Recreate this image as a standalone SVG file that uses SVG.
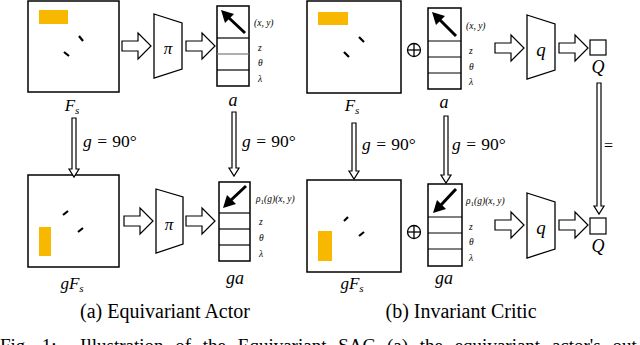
<svg xmlns="http://www.w3.org/2000/svg" width="640" height="345" viewBox="0 0 640 345">
<defs>
<style>
.box{fill:#fff;stroke:#000;stroke-width:1.5}
.cell{fill:none;stroke:#000;stroke-width:1.5}
.orange{fill:#f8b800}
.dash{stroke:#000;stroke-width:2.2;stroke-linecap:butt}
.harrow{fill:#fff;stroke:#000;stroke-width:1.2}
.trap{fill:#fff;stroke:#000;stroke-width:1.3}
.vec{stroke:#000;stroke-width:3}
text{font-family:'Liberation Serif','DejaVu Serif',serif;fill:#000}
.it{font-style:italic}
.sm{font-style:italic;font-size:9.5px}
</style>
<path id="rarrow" d="M0,-5 H16 V-13 L29,0 L16,13 V5 H0 Z"/>
</defs>

<!-- Left top: F_s -->
<g id="Fs_left">
<rect class="box" x="28" y="1" width="91" height="91"/>
<rect class="orange" x="39" y="10" width="29" height="14"/>
<line class="dash" x1="79" y1="36" x2="83" y2="41"/>
<line class="dash" x1="64" y1="52" x2="69" y2="56"/>
<text font-family="Liberation Serif, serif" class="it" x="72" y="111" font-size="17" text-anchor="middle">F<tspan font-size="11" dy="3">s</tspan></text>
</g>

<g id="pi_top">
<polygon class="trap" points="154,14 182,23 182,69 154,78"/>
<text font-family="Liberation Serif, serif" class="it" x="168" y="54" font-size="17" text-anchor="middle">π</text>
</g>

<g id="a_left">
<rect class="cell" x="217" y="6" width="32" height="80"/>
<line x1="217" y1="38" x2="249" y2="38" stroke="#000" stroke-width="1.2"/>
<line x1="217" y1="54" x2="249" y2="54" stroke="#777" stroke-width="1.2"/>
<line x1="217" y1="70" x2="249" y2="70" stroke="#000" stroke-width="1.2"/>
<line class="vec" x1="245" y1="33" x2="228" y2="17"/>
<polygon points="221,10 234,14 225,23" fill="#000"/>
<text font-family="Liberation Serif, serif" class="sm" x="254" y="26">(x, y)</text>
<text font-family="Liberation Serif, serif" class="sm" x="258" y="51">z</text>
<text font-family="Liberation Serif, serif" class="sm" x="258" y="66">θ</text>
<text font-family="Liberation Serif, serif" class="sm" x="258" y="82">λ</text>
<text font-family="Liberation Serif, serif" class="it" x="233" y="106" font-size="18" text-anchor="middle">a</text>
</g>

<!-- Left bottom -->
<g id="gFs_left">
<rect class="box" x="28" y="175" width="91" height="92"/>
<rect class="orange" x="39" y="227" width="12" height="29"/>
<line class="dash" x1="63" y1="215" x2="68" y2="211"/>
<line class="dash" x1="78" y1="232" x2="83" y2="228"/>
<text font-family="Liberation Serif, serif" class="it" x="72" y="289" font-size="17" text-anchor="middle">gF<tspan font-size="11" dy="3">s</tspan></text>
</g>

<g id="pi_bottom">
<polygon class="trap" points="156,189 183,197 183,244 156,253"/>
<text font-family="Liberation Serif, serif" class="it" x="169" y="230" font-size="17" text-anchor="middle">π</text>
</g>

<g id="ga_left">
<rect class="cell" x="219" y="182" width="31" height="79"/>
<line x1="219" y1="213" x2="250" y2="213" stroke="#000" stroke-width="1.2"/>
<line x1="219" y1="229" x2="250" y2="229" stroke="#000" stroke-width="1.2"/>
<line x1="219" y1="245" x2="250" y2="245" stroke="#000" stroke-width="1.2"/>
<line class="vec" x1="246" y1="186" x2="230" y2="201"/>
<polygon points="223,208 227,195 236,204" fill="#000"/>
<text font-family="Liberation Serif, serif" class="sm" x="256" y="202">ρ<tspan font-size="7" dy="1.5" font-style="normal">1</tspan><tspan dy="-1.5">(g)(x, y)</tspan></text>
<text font-family="Liberation Serif, serif" class="sm" x="259" y="225">z</text>
<text font-family="Liberation Serif, serif" class="sm" x="259" y="241">θ</text>
<text font-family="Liberation Serif, serif" class="sm" x="259" y="257">λ</text>
<text font-family="Liberation Serif, serif" class="it" x="235" y="284" font-size="18" text-anchor="middle">ga</text>
</g>

<!-- Right top -->
<g id="Fs_right">
<rect class="box" x="307" y="1" width="94" height="92"/>
<rect class="orange" x="318" y="12" width="30" height="13"/>
<line class="dash" x1="359" y1="37" x2="364" y2="42"/>
<line class="dash" x1="344" y1="52" x2="349" y2="57"/>
<text font-family="Liberation Serif, serif" class="it" x="352" y="111" font-size="17" text-anchor="middle">F<tspan font-size="11" dy="3">s</tspan></text>
</g>

<g id="oplus_top">
<circle cx="414" cy="50" r="6.5" fill="none" stroke="#000" stroke-width="1.3"/>
<line x1="407.5" y1="50" x2="420.5" y2="50" stroke="#000" stroke-width="1.3"/>
<line x1="414" y1="43.5" x2="414" y2="56.5" stroke="#000" stroke-width="1.3"/>
</g>

<g id="a_right">
<rect class="cell" x="428" y="8" width="33" height="81"/>
<line x1="428" y1="41" x2="461" y2="41" stroke="#000" stroke-width="1.2"/>
<line x1="428" y1="57" x2="461" y2="57" stroke="#000" stroke-width="1.2"/>
<line x1="428" y1="73" x2="461" y2="73" stroke="#000" stroke-width="1.2"/>
<line class="vec" x1="456" y1="36" x2="439" y2="19"/>
<polygon points="432,12 445,16 436,25" fill="#000"/>
<text font-family="Liberation Serif, serif" class="sm" x="466" y="29">(x, y)</text>
<text font-family="Liberation Serif, serif" class="sm" x="469" y="54">z</text>
<text font-family="Liberation Serif, serif" class="sm" x="469" y="70">θ</text>
<text font-family="Liberation Serif, serif" class="sm" x="469" y="85">λ</text>
<text font-family="Liberation Serif, serif" class="it" x="444" y="108" font-size="18" text-anchor="middle">a</text>
</g>

<g id="q_top">
<polygon class="trap" points="527,15 555,24 555,70 527,79"/>
<text font-family="Liberation Serif, serif" class="it" x="541" y="56" font-size="19" text-anchor="middle">q</text>
</g>

<g id="Q_top">
<rect x="590" y="40" width="16" height="15" fill="#fff" stroke="#000" stroke-width="1.2"/>
<text font-family="Liberation Serif, serif" class="it" x="598" y="73" font-size="18" text-anchor="middle">Q</text>
</g>

<!-- Right bottom -->
<g id="gFs_right">
<rect class="box" x="307" y="180" width="94" height="92"/>
<rect class="orange" x="318" y="231" width="14" height="30"/>
<line class="dash" x1="344" y1="221" x2="348" y2="217"/>
<line class="dash" x1="359" y1="236" x2="364" y2="232"/>
<text font-family="Liberation Serif, serif" class="it" x="352" y="289" font-size="17" text-anchor="middle">gF<tspan font-size="11" dy="3">s</tspan></text>
</g>

<g id="oplus_bottom">
<circle cx="414" cy="232" r="6.5" fill="none" stroke="#000" stroke-width="1.3"/>
<line x1="407.5" y1="232" x2="420.5" y2="232" stroke="#000" stroke-width="1.3"/>
<line x1="414" y1="225.5" x2="414" y2="238.5" stroke="#000" stroke-width="1.3"/>
</g>

<g id="ga_right">
<rect class="cell" x="428" y="184" width="34" height="82"/>
<line x1="428" y1="217" x2="462" y2="217" stroke="#000" stroke-width="1.2"/>
<line x1="428" y1="233" x2="462" y2="233" stroke="#000" stroke-width="1.2"/>
<line x1="428" y1="249" x2="462" y2="249" stroke="#000" stroke-width="1.2"/>
<line class="vec" x1="456" y1="189" x2="440" y2="206"/>
<polygon points="433,213 437,200 446,209" fill="#000"/>
<text font-family="Liberation Serif, serif" class="sm" x="466" y="204">ρ<tspan font-size="7" dy="1.5" font-style="normal">1</tspan><tspan dy="-1.5">(g)(x, y)</tspan></text>
<text font-family="Liberation Serif, serif" class="sm" x="469" y="230">z</text>
<text font-family="Liberation Serif, serif" class="sm" x="469" y="245">θ</text>
<text font-family="Liberation Serif, serif" class="sm" x="469" y="261">λ</text>
<text font-family="Liberation Serif, serif" class="it" x="444" y="284" font-size="18" text-anchor="middle">ga</text>
</g>

<g id="q_bottom">
<polygon class="trap" points="527,193 555,202 555,249 527,258"/>
<text font-family="Liberation Serif, serif" class="it" x="541" y="234" font-size="19" text-anchor="middle">q</text>
</g>

<g id="Q_bottom">
<rect x="590" y="218" width="16" height="16" fill="#fff" stroke="#000" stroke-width="1.2"/>
<text font-family="Liberation Serif, serif" class="it" x="598" y="252" font-size="18" text-anchor="middle">Q</text>
</g>

<!-- Connectors -->
<g id="connectors">
<use href="#rarrow" class="harrow" x="122" y="46"/>
<use href="#rarrow" class="harrow" x="186" y="46"/>
<use href="#rarrow" class="harrow" x="124" y="221"/>
<use href="#rarrow" class="harrow" x="186" y="221"/>
<use href="#rarrow" class="harrow" x="495" y="48"/>
<use href="#rarrow" class="harrow" x="559" y="48"/>
<use href="#rarrow" class="harrow" x="495" y="225"/>
<use href="#rarrow" class="harrow" x="559" y="225"/>
<path class="harrow" d="M72,118 H76 V169 H79 L74,177 L69,169 H72 Z"/>
<path class="harrow" d="M232,112 H236 V168 H239 L234,176 L229,168 H232 Z"/>
<path class="harrow" d="M352,123 H356 V171 H359 L354,179 L349,171 H352 Z"/>
<path class="harrow" d="M444,116 H448 V175 H451 L446,183 L441,175 H444 Z"/>
<path class="harrow" d="M597,83 H601 V206 H604 L599,214 L594,206 H597 Z"/>
<text font-family="Liberation Serif, serif" x="83" y="147" font-size="17.5" word-spacing="1"><tspan class="it">g</tspan> = 90°</text>
<text font-family="Liberation Serif, serif" x="242" y="147" font-size="17.5" word-spacing="1"><tspan class="it">g</tspan> = 90°</text>
<text font-family="Liberation Serif, serif" x="362" y="150" font-size="17.5" word-spacing="1"><tspan class="it">g</tspan> = 90°</text>
<text font-family="Liberation Serif, serif" x="452" y="150" font-size="17.5" word-spacing="1"><tspan class="it">g</tspan> = 90°</text>
<text font-family="Liberation Serif, serif" x="604" y="151" font-size="16">=</text>
</g>

<text font-family="Liberation Serif, serif" x="165" y="318" font-size="20" text-anchor="middle">(a) Equivariant Actor</text>
<text font-family="Liberation Serif, serif" x="461" y="318" font-size="20" text-anchor="middle">(b) Invariant Critic</text>
<text font-family="Liberation Serif, serif" x="0" y="352" font-size="19" word-spacing="7" xml:space="preserve">Fig. 1:  Illustration of the Equivariant SAC (a) the equivariant actor's out</text>
</svg>
